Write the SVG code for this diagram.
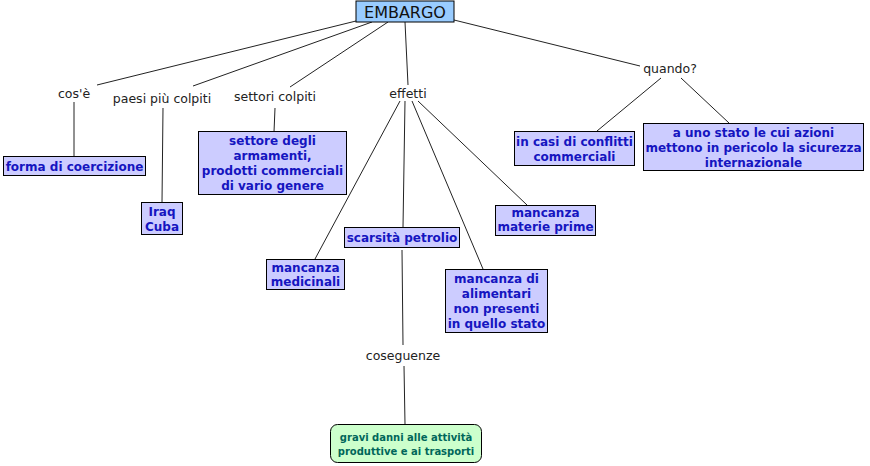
<svg xmlns="http://www.w3.org/2000/svg" width="870" height="466" viewBox="0 0 870 466">
<style>
.box{fill:#ccccff;stroke:#000;stroke-width:1}
.bt{font-family:"DejaVu Sans",Verdana,sans-serif;font-weight:bold;font-size:12px;fill:#1515c0;text-anchor:middle}
.lb{font-family:"DejaVu Sans",Verdana,sans-serif;font-size:12.5px;fill:#222;text-anchor:middle}
.ln{stroke:#222;stroke-width:1;fill:none}
</style>
<rect width="870" height="466" fill="#fff"/>
<g id="connectors">
<line class="ln" x1="356" y1="21" x2="97" y2="85"/>
<line class="ln" x1="372" y1="22" x2="193" y2="86"/>
<line class="ln" x1="388" y1="22" x2="290" y2="87"/>
<line class="ln" x1="405" y1="22" x2="408" y2="85"/>
<line class="ln" x1="454" y1="20" x2="640" y2="66"/>
<line class="ln" x1="74" y1="102" x2="74" y2="157"/>
<line class="ln" x1="163" y1="108" x2="162" y2="202"/>
<line class="ln" x1="275" y1="108" x2="274" y2="132"/>
<line class="ln" x1="400" y1="101" x2="315" y2="259"/>
<line class="ln" x1="405" y1="101" x2="403" y2="227"/>
<line class="ln" x1="412" y1="101" x2="483" y2="269"/>
<line class="ln" x1="418" y1="101" x2="527" y2="205"/>
<line class="ln" x1="402" y1="250" x2="403" y2="345"/>
<line class="ln" x1="404" y1="366" x2="405" y2="424"/>
<line class="ln" x1="661" y1="78" x2="597" y2="131"/>
<line class="ln" x1="681" y1="78" x2="729" y2="123"/>
</g>
<g id="embargo">
<rect x="356" y="1" width="98" height="21" fill="#99ccff" stroke="#000"/>
<text x="405" y="18" font-family="'DejaVu Sans',Verdana,sans-serif" font-size="16" fill="#111" text-anchor="middle">EMBARGO</text>
</g>
<g id="l-cose"><text class="lb" x="74" y="98">cos'è</text></g>
<g id="l-paesi"><text class="lb" x="162" y="103">paesi più colpiti</text></g>
<g id="l-settori"><text class="lb" x="275" y="101">settori colpiti</text></g>
<g id="l-effetti"><text class="lb" x="408" y="98">effetti</text></g>
<g id="l-quando"><text class="lb" x="670" y="73">quando?</text></g>
<g id="l-coseguenze"><text class="lb" x="403" y="360">coseguenze</text></g>
<g id="n-forma">
<rect class="box" x="3.5" y="156.5" width="142" height="19"/>
<text class="bt" x="74.5" y="171">forma di coercizione</text>
</g>
<g id="n-iraq">
<rect class="box" x="141.5" y="202.5" width="41" height="32"/>
<text class="bt" x="162" y="216">Iraq</text>
<text class="bt" x="162" y="231">Cuba</text>
</g>
<g id="n-settore">
<rect class="box" x="198.5" y="131.5" width="148" height="63"/>
<text class="bt" x="272.5" y="145">settore degli</text>
<text class="bt" x="272.5" y="160">armamenti,</text>
<text class="bt" x="272.5" y="175">prodotti commerciali</text>
<text class="bt" x="272.5" y="190">di vario genere</text>
</g>
<g id="n-medicinali">
<rect class="box" x="266.5" y="259.5" width="78" height="30"/>
<text class="bt" x="305.5" y="272">mancanza</text>
<text class="bt" x="305.5" y="286">medicinali</text>
</g>
<g id="n-scarsita">
<rect class="box" x="344.5" y="227.5" width="115" height="20"/>
<text class="bt" x="402" y="242">scarsità petrolio</text>
</g>
<g id="n-materie">
<rect class="box" x="495.5" y="205.5" width="100" height="30"/>
<text class="bt" x="545.5" y="217">mancanza</text>
<text class="bt" x="545.5" y="231">materie prime</text>
</g>
<g id="n-alimentari">
<rect class="box" x="445.5" y="269.5" width="102" height="63"/>
<text class="bt" x="496.5" y="283">mancanza di</text>
<text class="bt" x="496.5" y="298">alimentari</text>
<text class="bt" x="496.5" y="313">non presenti</text>
<text class="bt" x="496.5" y="328">in quello stato</text>
</g>
<g id="n-incasi">
<rect class="box" x="514.5" y="131.5" width="120" height="34"/>
<text class="bt" x="574.5" y="146">in casi di conflitti</text>
<text class="bt" x="574.5" y="161">commerciali</text>
</g>
<g id="n-uno">
<rect class="box" x="643.5" y="123.5" width="220" height="47"/>
<text class="bt" x="753.5" y="137">a uno stato le cui azioni</text>
<text class="bt" x="753.5" y="152">mettono in pericolo la sicurezza</text>
<text class="bt" x="753.5" y="167">internazionale</text>
</g>
<g id="n-gravi">
<rect x="330.5" y="424.5" width="151" height="38" rx="7" ry="7" fill="#ccffcc" stroke="#000"/>
<text x="406" y="441" font-family="Verdana,'DejaVu Sans',sans-serif" font-weight="bold" font-size="10px" fill="#00665a" text-anchor="middle">gravi danni alle attività</text>
<text x="406" y="455" font-family="Verdana,'DejaVu Sans',sans-serif" font-weight="bold" font-size="10px" fill="#00665a" text-anchor="middle">produttive e ai trasporti</text>
</g>
</svg>
